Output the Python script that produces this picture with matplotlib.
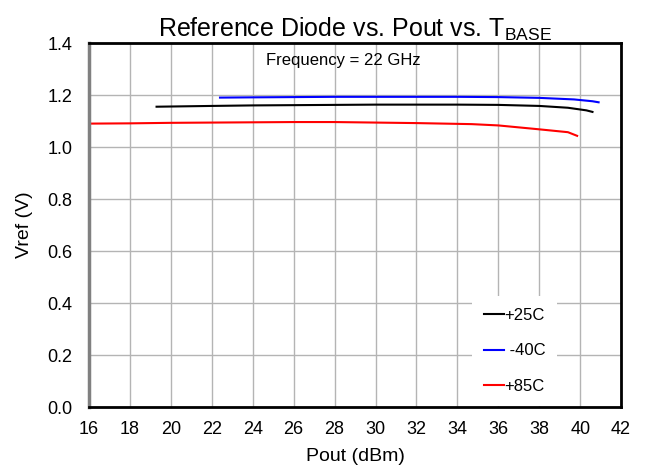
import matplotlib
matplotlib.use("Agg")
import matplotlib.pyplot as plt

plt.rcParams['font.family'] = ['Liberation Sans', 'DejaVu Sans']

# Data
pout_25 = [19.3, 22, 24, 26, 28, 30, 32, 34, 36, 38, 39.4, 40.3, 40.6]
vref_25 = [1.155, 1.158, 1.160, 1.161, 1.162, 1.163, 1.163, 1.163, 1.162, 1.158, 1.151, 1.141, 1.135]

pout_m40 = [22.4, 24, 26, 28, 30, 32, 34, 36, 38, 39.7, 40.6, 40.9]
vref_m40 = [1.190, 1.191, 1.192, 1.193, 1.193, 1.193, 1.193, 1.192, 1.189, 1.183, 1.176, 1.172]

pout_85 = [16, 18, 20, 22, 24, 26, 28, 30, 32, 34.7, 36, 38, 39.4, 39.85]
vref_85 = [1.090, 1.091, 1.093, 1.094, 1.095, 1.096, 1.096, 1.094, 1.092, 1.088, 1.083, 1.068, 1.057, 1.043]

xticks = list(range(16, 43, 2))
yticks = [0.0, 0.2, 0.4, 0.6, 0.8, 1.0, 1.2, 1.4]

fig = plt.figure(figsize=(6.47, 4.66), dpi=100)
ax = fig.add_axes([0.1376, 0.1266, 0.8224, 0.7811])

ax.plot(pout_25, vref_25, color='black', lw=1.5, label='+25C')
ax.plot(pout_m40, vref_m40, color='#0000ff', lw=1.5, label=' -40C')
ax.plot(pout_85, vref_85, color='#ff0000', lw=1.5, label='+85C')

ax.set_xlim(16, 42)
ax.set_ylim(0, 1.4)
ax.set_xticks(xticks)
ax.set_yticks(yticks)
ax.set_yticklabels([f"{v:.1f}" for v in yticks])
ax.grid(True, color='#b4b4b4', lw=1.0)
ax.set_axisbelow(True)
ax.tick_params(axis='x', labelsize=13, length=0, pad=10)
ax.tick_params(axis='y', labelsize=13, length=0, pad=12)
for name, s in ax.spines.items():
    s.set_linewidth(2)
    s.set_color('black')
ax.spines['left'].set_color('#808080')
ax.spines['left'].set_linewidth(2.5)

ax.set_xlabel('Pout (dBm)', fontsize=14, labelpad=7)
ax.set_ylabel('Vref (V)', fontsize=14, labelpad=10)
ax.set_title(r'Reference Diode vs. Pout vs. T$_{\mathregular{BASE}}$', fontsize=18, pad=1)

ax.text(0.478, 0.953, 'Frequency = 22 GHz', transform=ax.transAxes, ha='center', va='center', fontsize=12)

leg = ax.legend(loc='upper left', bbox_to_anchor=(0.72, 0.305), fontsize=12, frameon=True,
                handlelength=1.2, handletextpad=0.05, labelspacing=1.25, borderpad=0.7,
                borderaxespad=0)
leg.get_frame().set_edgecolor('none')
leg.get_frame().set_facecolor('white')
leg.get_frame().set_alpha(1.0)
leg.get_frame().set_boxstyle('square', pad=0)

fig.savefig('out.png', dpi=100)
